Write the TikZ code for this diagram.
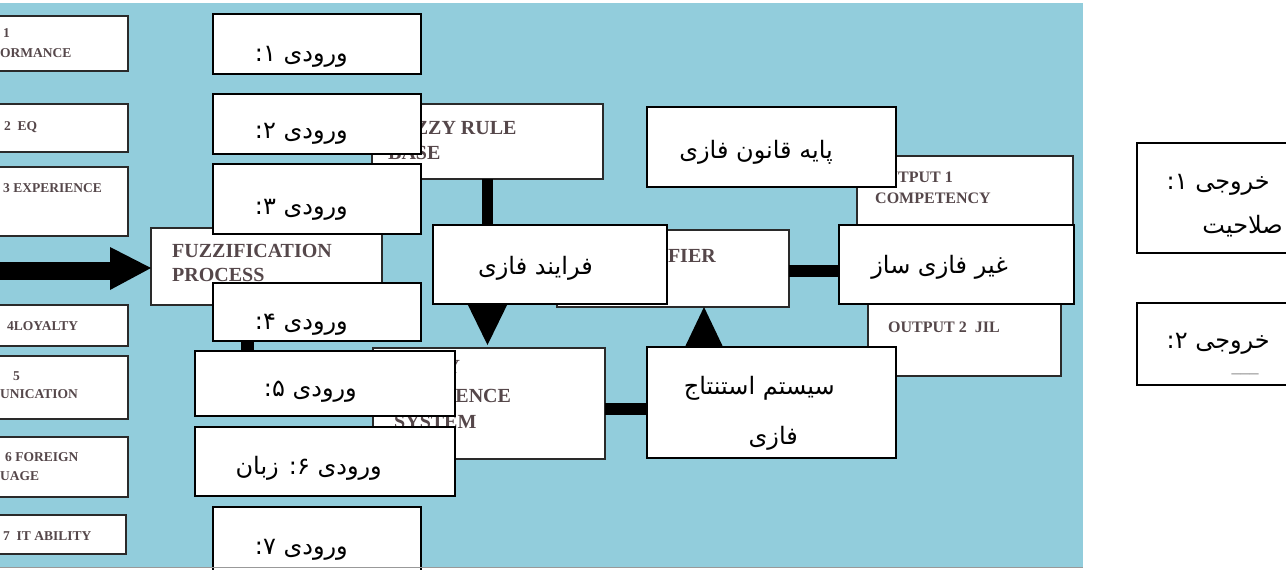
\documentclass[tikz,border=0pt]{standalone}
\usepackage{fontspec}
\setmainfont{Liberation Serif}
\newfontfamily\arabicfont[Script=Arabic]{DejaVu Sans}
\TeXXeTstate=1
\usetikzlibrary{calc}
\definecolor{bgblue}{HTML}{92CDDC}
\definecolor{entext}{HTML}{55474A}
\definecolor{enline}{HTML}{2A2A2A}
\begin{document}
\begin{tikzpicture}[x=1pt,y=-1pt,
  ebox/.style={draw=enline,line width=1.4pt,fill=white,inner sep=0pt,outer sep=0pt,anchor=north west},
  pbox/.style={draw=black,line width=1.8pt,fill=white,inner sep=0pt,outer sep=0pt,anchor=north west},
  bigen/.style={text=entext,font=\bfseries\fontsize{20}{24}\selectfont,inner sep=0pt,anchor=base west},
  miden/.style={text=entext,font=\bfseries\fontsize{16}{20}\selectfont,inner sep=0pt,anchor=base west},
  smallen/.style={text=entext,font=\bfseries\fontsize{13.5}{16}\selectfont,inner sep=0pt,anchor=base west},
  ptext/.style={font=\arabicfont\fontsize{24}{28}\selectfont,inner sep=0pt,anchor=base east},
  conn/.style={line width=11pt,draw=black},
  headfill/.style={fill=black}
]
\useasboundingbox (0,0) rectangle (1286,570);
% background
\fill[bgblue] (0,3) rectangle (1083,567);

% left column
\node[ebox,minimum width=130pt,minimum height=55pt] (L1) at (-2,16) {};
\node[smallen] (L1a) at (3,37) {1};
\node[smallen] (L1b) at (0,57) {ORMANCE};
\node[ebox,minimum width=130pt,minimum height=48pt] (L2) at (-2,104) {};
\node[smallen] (L2a) at (4,130) {2\ \ EQ};
\node[ebox,minimum width=130pt,minimum height=69pt] (L3) at (-2,167) {};
\node[smallen] (L3a) at (3,192) {3 EXPERIENCE};
\node[ebox,minimum width=130pt,minimum height=41pt] (L4) at (-2,305) {};
\node[smallen] (L4a) at (7,330) {4LOYALTY};
\node[ebox,minimum width=130pt,minimum height=63pt] (L5) at (-2,356) {};
\node[smallen] (L5a) at (13,380) {5};
\node[smallen] (L5b) at (0,398) {UNICATION};
\node[ebox,minimum width=130pt,minimum height=60pt] (L6) at (-2,437) {};
\node[smallen] (L6a) at (5,461) {6 FOREIGN};
\node[smallen] (L6b) at (0,480) {UAGE};
\node[ebox,minimum width=128pt,minimum height=39pt] (L7) at (-2,515) {};
\node[smallen] (L7a) at (3,540) {7\ \ IT ABILITY};

% english boxes
\node[ebox,minimum width=231pt,minimum height=77pt] (fuzz) at (151,228) {};
\node[bigen] (fuzza) at (172,257.5) {FUZZIFICATION};
\node[bigen] (fuzzb) at (172,281.5) {PROCESS};
\node[ebox,minimum width=231pt,minimum height=75pt] (rule) at (372,104) {};
\node[bigen] (rulea) at (388,134.5) {FUZZY RULE};
\node[bigen] (ruleb) at (388,159.5) {BASE};
\node[ebox,minimum width=232pt,minimum height=77pt] (defuzz) at (557,230) {};
\node[bigen,anchor=base east] (defuzza) at (716,262.5) {DEFUZZIFIER};
\node[ebox,minimum width=232pt,minimum height=111pt] (infer) at (373,348) {};
\node[bigen] (infera) at (392,373.5) {FUZZY};
\node[bigen] (inferb) at (393,402.5) {INFERENCE};
\node[bigen] (inferc) at (394,428.5) {SYSTEM};
\node[ebox,minimum width=216pt,minimum height=84pt] (out1) at (857,156) {};
\node[miden] (out1a) at (874,182.5) {OUTPUT 1};
\node[miden] (out1b) at (875,203.5) {COMPETENCY};
\node[ebox,minimum width=193pt,minimum height=86pt] (out2) at (868,290) {};
\node[miden] (out2a) at (888,332.5) {OUTPUT 2\ \ JIL};

% connectors
\coordinate (arrowstart) at (-5,271);
\draw[line width=18pt] (arrowstart) -- ($(fuzz.west)+(-40,4.5)$);
\fill[headfill] ($(fuzz.west)+(-41,-19.5)$) -- ($(fuzz.west)+(0,1.5)$) -- ($(fuzz.west)+(-41,23.5)$) -- cycle;
\draw[conn] (rule.south) -- ($(rule.south |- infer.north)+(0,-44)$);
\fill[headfill] ($(rule.south |- infer.north)+(-22,-48)$) -- ($(rule.south |- infer.north)+(0,-3)$) -- ($(rule.south |- infer.north)+(22,-48)$) -- cycle;
\draw[conn,line width=12pt] ($(infer.east)+(0,5.5)$) -| ($(defuzz.south)+(31,40)$);
\fill[headfill] ($(defuzz.south)+(10.5,43)$) -- ($(defuzz.south)+(31,0)$) -- ($(defuzz.south)+(51.5,43)$) -- cycle;
\draw[conn,line width=13pt] ($(fuzz.south)+(-19.5,0)$) |- (infer.west);

% persian boxes
\node[pbox,minimum width=208pt,minimum height=60pt] (in1) at (213,14) {};
\node[ptext] (in1t) at (348,61) {\beginR ورودی ۱:\endR};
\node[pbox,minimum width=208pt,minimum height=60pt] (in2) at (213,94) {};
\node[ptext] (in2t) at (348,138) {\beginR ورودی ۲:\endR};
\node[pbox,minimum width=208pt,minimum height=70pt] (in3) at (213,164) {};
\node[ptext] (in3t) at (348,214) {\beginR ورودی ۳:\endR};
\node[pbox,minimum width=208pt,minimum height=58pt] (in4) at (213,283) {};
\node[ptext] (in4t) at (348,329) {\beginR ورودی ۴:\endR};
\node[pbox,minimum width=260pt,minimum height=65pt] (in5) at (195,351) {};
\node[ptext] (in5t) at (357,396) {\beginR ورودی ۵:\endR};
\node[pbox,minimum width=260pt,minimum height=69pt] (in6) at (195,427) {};
\node[ptext] (in6t) at (382,474) {\beginR ورودی ۶: زبان\endR};
\node[pbox,minimum width=208pt,minimum height=70pt] (in7) at (213,507) {};
\node[ptext] (in7t) at (348,554) {\beginR ورودی ۷:\endR};

\node[pbox,minimum width=249pt,minimum height=80pt] (rulefa) at (647,107) {};
\node[ptext] (rulefat) at (833,158) {\beginR پایه قانون فازی\endR};
\node[pbox,minimum width=234pt,minimum height=79pt] (proc) at (433,225) {};
\node[ptext] (proct) at (593,274) {\beginR فرایند فازی\endR};
\draw[conn,line width=12pt] ($(defuzz.east)+(0,2.5)$) -- ($(defuzz.east)+(50,2.5)$);
\node[pbox,minimum width=235pt,minimum height=79pt] (defa) at (839,225) {};
\node[ptext] (defat) at (1008,273) {\beginR غیر فازی ساز\endR};
\node[pbox,minimum width=249pt,minimum height=111pt] (inffa) at (647,347) {};
\node[ptext] (inffat1) at (835,394) {\beginR سیستم استنتاج\endR};
\node[ptext] (inffat2) at (798,444) {\beginR فازی\endR};

\node[pbox,minimum width=170pt,minimum height=110pt] (o1) at (1137,143) {};
\node[ptext] (o1t1) at (1270,189) {\beginR خروجی ۱:\endR};
\node[ptext] (o1t2) at (1283,233) {\beginR صلاحیت\endR};
\node[pbox,minimum width=170pt,minimum height=82pt] (o2) at (1137,303) {};
\node[ptext] (o2t) at (1270,348) {\beginR خروجی ۲:\endR};
\node[text=gray,font=\fontsize{18}{20}\selectfont,inner sep=0pt,anchor=base] (o2d) at (1245,372) {\_\_\_};

\draw[gray!80,line width=1pt] (0,567) -- (1083,567);
\end{tikzpicture}
\end{document}
